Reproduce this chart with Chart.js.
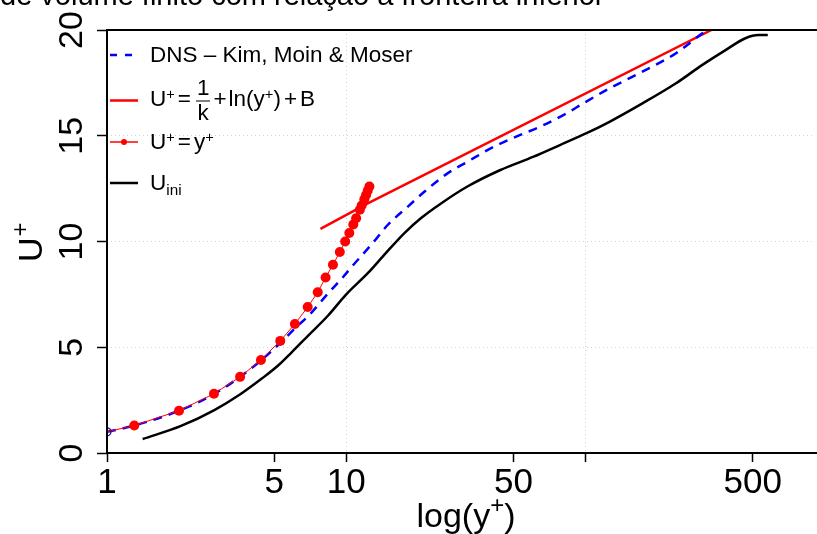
<!DOCTYPE html>
<html>
<head>
<meta charset="utf-8">
<script src="https://cdn.jsdelivr.net/npm/chart.js"></script>
<style>
  body { margin: 0; background: #fff; }
  #wrap { position: relative; width: 817px; height: 534px; overflow: hidden; }
  .lg { position: absolute; left: 108px; display: flex; align-items: center; transform: translateY(-50%);
        white-space: nowrap; font: 22.5px "Liberation Sans", Arial, sans-serif; color: #000; }
  .lg svg { margin-right: 12px; flex: none; }
  .lg sup { font-size: 0.65em; vertical-align: 0; position: relative; top: -0.5em; }
  .lg sub { font-size: 0.68em; vertical-align: 0; position: relative; top: 0.32em; }
  .op { margin: 0 3px; }
  .frac { display: inline-flex; flex-direction: column; align-items: center; vertical-align: middle;
          line-height: 1; margin: 0 3px 0 2px; }
  .frac .num { border-bottom: 1.5px solid #000; padding: 0 1px 1px; }
</style>
</head>
<body>
<div id="wrap">
  <canvas id="grafico" width="817" height="534"></canvas>
  <div class="lg" style="top:55px">
    <svg width="30" height="12"><line x1="2" y1="6" x2="30" y2="6" stroke="#0000ff" stroke-width="2.5" stroke-dasharray="7 8"/></svg>
    <span>DNS – Kim, Moin &amp; Moser</span>
  </div>
  <div class="lg" style="top:100px">
    <svg width="30" height="12"><line x1="2" y1="6" x2="30" y2="6" stroke="#ff0000" stroke-width="2.5"/></svg>
    <span>U<sup>+</sup><span class="op">=</span><span class="frac"><span class="num">1</span><span>k</span></span>+<span style="margin-left:2px">ln(y<sup>+</sup>)</span><span class="op">+</span>B</span>
  </div>
  <div class="lg" style="top:142px">
    <svg width="30" height="12"><line x1="2" y1="6" x2="30" y2="6" stroke="#ff0000" stroke-width="1.5"/><circle cx="16" cy="6" r="3" fill="#ff0000"/></svg>
    <span>U<sup>+</sup><span class="op">=</span>y<sup>+</sup></span>
  </div>
  <div class="lg" style="top:183px">
    <svg width="30" height="12"><line x1="2" y1="6" x2="30" y2="6" stroke="#000" stroke-width="2.5"/></svg>
    <span>U<sub>ini</sub></span>
  </div>
</div>
<script>
  // valores
  const dnsX = [1, 1.3, 2.0, 2.8, 3.6, 4.4, 5.3, 6.2, 7.0, 8.4, 9.6, 10.7, 12.0, 13.4, 14.9, 18.1, 21.2, 26.5, 32.1, 41.4, 53.4, 64.6, 83.4, 97.8, 126, 173, 239, 308, 324];
  const dnsY = [1.0, 1.3, 2.0, 2.79, 3.6, 4.38, 5.2, 5.97, 6.52, 7.55, 8.26, 8.89, 9.52, 10.15, 10.78, 11.65, 12.35, 13.22, 13.77, 14.48, 15.04, 15.43, 16.06, 16.53, 17.24, 18.03, 18.9, 19.84, 20.0];

  const logX = [7.8, 12.3, 336];
  const logY = [10.6, 11.8, 20.0];

  const wallX = [1, 1.3, 2.0, 2.8, 3.6, 4.4, 5.3, 6.1, 6.9, 7.6, 8.2, 8.8, 9.4, 9.9, 10.3, 10.7, 11.0, 11.4, 11.6, 11.9, 12.1, 12.3, 12.5];
  const wallY = [1, 1.3, 2.0, 2.8, 3.6, 4.4, 5.3, 6.1, 6.9, 7.6, 8.3, 8.9, 9.5, 10.0, 10.4, 10.8, 11.1, 11.5, 11.7, 12.0, 12.2, 12.4, 12.6];

  const iniX = [1.41, 2.04, 2.81, 3.62, 4.45, 5.22, 5.9, 7.0, 8.4, 10.0, 12.3, 14.5, 17.5, 20.5, 24.9, 32.1, 44.1, 60.7, 78.2, 101, 126, 173, 239, 308, 385, 466, 529, 578];
  const iniY = [0.66, 1.28, 2.03, 2.79, 3.53, 4.16, 4.75, 5.6, 6.5, 7.5, 8.5, 9.4, 10.4, 11.1, 11.8, 12.6, 13.38, 14.01, 14.56, 15.12, 15.66, 16.53, 17.48, 18.35, 19.05, 19.61, 19.76, 19.76];

  const xTicks = [1, 5, 10, 50, 100, 500];
  const xTickLabels = ['1', '5', '10', '50', '', '500'];
  const xGrid = [1, 10, 100];
  const yTicks = [0, 5, 10, 15, 20];
  const yGrid = [5, 10, 15];

  const titulo = 'de volume finito com relação à fronteira inferior';
  const fonte = '"Liberation Sans", Arial, sans-serif';

  const pts = (xs, ys) => xs.map((v, i) => ({ x: v, y: ys[i] }));

  const extras = {
    id: 'extras',
    afterDraw(chart) {
      const { ctx, chartArea: a, scales: { x, y } } = chart;
      ctx.save();
      ctx.strokeStyle = '#000';
      ctx.lineWidth = 2;
      ctx.strokeRect(a.left, a.top, a.right - a.left + 20, a.bottom - a.top);

      ctx.fillStyle = '#000';
      // rotulos do eixo y (girados)
      ctx.font = '34px ' + fonte;
      ctx.textAlign = 'center';
      ctx.textBaseline = 'alphabetic';
      yTicks.forEach(v => {
        ctx.save();
        ctx.translate(82, y.getPixelForValue(v));
        ctx.rotate(-Math.PI / 2);
        ctx.fillText(String(v), 0, 0);
        ctx.restore();
      });

      // titulo do eixo y: U+
      ctx.save();
      ctx.translate(42, 262);
      ctx.rotate(-Math.PI / 2);
      ctx.textAlign = 'left';
      ctx.font = '34px ' + fonte;
      ctx.fillText('U', 0, 0);
      const wU = ctx.measureText('U').width;
      ctx.font = '24px ' + fonte;
      ctx.fillText('+', wU + 1, -14);
      ctx.restore();

      // titulo do eixo x: log(y+)
      ctx.textAlign = 'left';
      ctx.font = '34px ' + fonte;
      const w1 = ctx.measureText('log(y').width;
      ctx.font = '24px ' + fonte;
      const w2 = ctx.measureText('+').width;
      ctx.font = '34px ' + fonte;
      const w3 = ctx.measureText(')').width;
      let x0 = 466 - (w1 + w2 + w3) / 2;
      ctx.fillText('log(y', x0, 527);
      ctx.font = '24px ' + fonte;
      ctx.fillText('+', x0 + w1, 513);
      ctx.font = '34px ' + fonte;
      ctx.fillText(')', x0 + w1 + w2, 527);

      // titulo cortado no topo
      ctx.font = '29px ' + fonte;
      ctx.fillText(titulo, 0, 5);
      ctx.restore();
    }
  };

  new Chart(document.getElementById('grafico'), {
    type: 'line',
    data: {
      datasets: [{
        label: 'U+ = y+',
        data: pts(wallX, wallY),
        borderColor: '#ff0000',
        borderWidth: 1,
        pointRadius: c => c.dataIndex === 0 ? 0 : 5,
        pointBackgroundColor: '#ff0000',
        pointBorderWidth: 0,
        order: 0
      }, {
        label: 'DNS - Kim, Moin & Moser',
        data: pts(dnsX, dnsY),
        borderColor: '#0000ff',
        borderWidth: 2.5,
        borderDash: [9, 7],
        cubicInterpolationMode: 'monotone',
        pointRadius: c => c.dataIndex === 0 ? 4 : 0,
        pointBackgroundColor: 'rgba(0,0,0,0)',
        pointBorderColor: '#000080',
        pointBorderWidth: 1.2,
        order: 1
      }, {
        label: 'lei log',
        data: pts(logX, logY),
        borderColor: '#ff0000',
        borderWidth: 2.5,
        pointRadius: 0,
        order: 2
      }, {
        label: 'U ini',
        data: pts(iniX, iniY),
        borderColor: '#000000',
        borderWidth: 2.5,
        cubicInterpolationMode: 'monotone',
        pointRadius: 0,
        order: 3
      }]
    },
    options: {
      responsive: false,
      animation: false,
      devicePixelRatio: 1,
      layout: { padding: { top: 30, left: 0, right: 0, bottom: 0 } },
      plugins: { legend: { display: false }, tooltip: { enabled: false } },
      scales: {
        x: {
          type: 'logarithmic',
          min: 1,
          max: 883,
          afterBuildTicks: s => { s.ticks = xTicks.map(v => ({ value: v })); },
          afterFit: s => { s.height = 81; },
          ticks: {
            autoSkip: false, maxRotation: 0, minRotation: 0, padding: 0, color: '#000',
            font: { family: fonte, size: 35 },
            callback: (v, i) => xTickLabels[i]
          },
          grid: {
            color: c => (c.tick && xGrid.includes(c.tick.value)) ? '#cfcfcf' : 'rgba(0,0,0,0)',
            lineWidth: 1, tickColor: '#000', tickLength: 9, tickWidth: 1.5
          },
          border: { display: false, dash: [1, 3] }
        },
        y: {
          min: 0,
          max: 20,
          afterBuildTicks: s => { s.ticks = yTicks.map(v => ({ value: v })); },
          afterFit: s => { s.width = 107; },
          ticks: { display: false },
          grid: {
            color: c => (c.tick && yGrid.includes(c.tick.value)) ? '#cfcfcf' : 'rgba(0,0,0,0)',
            lineWidth: 1, tickColor: '#000', tickLength: 10, tickWidth: 1.5
          },
          border: { display: false, dash: [1, 3] }
        }
      }
    },
    plugins: [extras]
  });
</script>
</body>
</html>
